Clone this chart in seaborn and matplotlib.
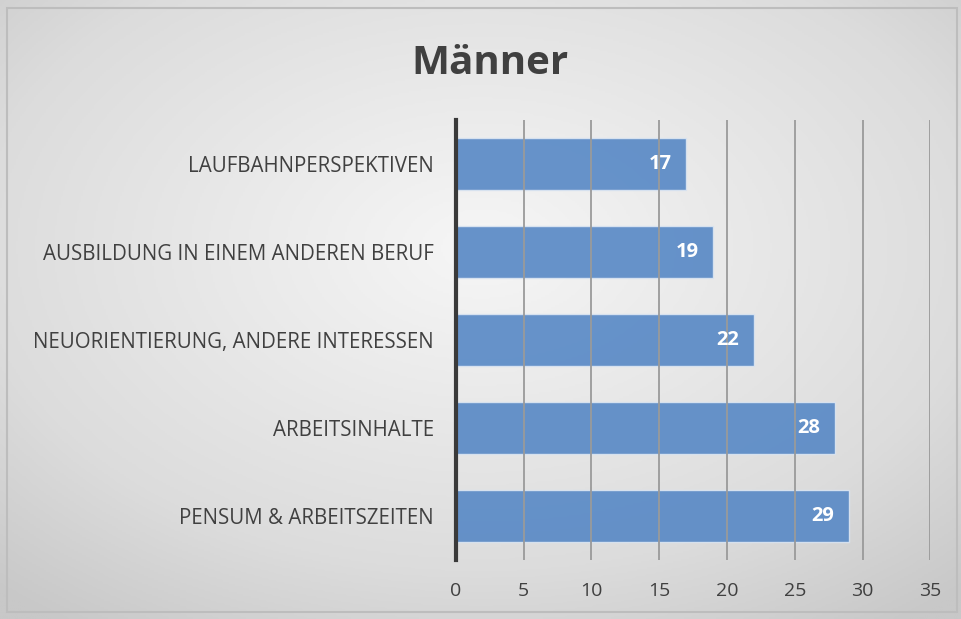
import numpy as np
import pandas as pd
import matplotlib.pyplot as plt
import seaborn as sns

# Daten
gruende = ["LAUFBAHNPERSPEKTIVEN", "AUSBILDUNG IN EINEM ANDEREN BERUF",
           "NEUORIENTIERUNG, ANDERE INTERESSEN", "ARBEITSINHALTE",
           "PENSUM & ARBEITSZEITEN"]
anzahl = [17, 19, 22, 28, 29]
xticks = [0, 5, 10, 15, 20, 25, 30, 35]

df = pd.DataFrame({"grund": gruende, "anzahl": anzahl})

sns.set_style("white")
plt.rcParams["font.family"] = ["Open Sans", "DejaVu Sans"]

fig = plt.figure(figsize=(9.62, 6.19), dpi=100)

# Hintergrund mit radialem Verlauf
bg = fig.add_axes([0, 0, 1, 1], zorder=0)
yy, xx = np.mgrid[-0.8:1.2:300j, -1:1:480j]
r = np.sqrt(xx ** 2 + yy ** 2)
cmap = plt.matplotlib.colors.LinearSegmentedColormap.from_list(
    "g", [(0, "#f6f6f6"), (0.7, "#dcdcdc"), (1.0, "#c8c8c8")])
bg.imshow(r, cmap=cmap, aspect="auto", extent=[0, 1, 0, 1], vmin=0, vmax=1.5)
bg.set_xlim(0, 1)
bg.set_ylim(0, 1)
bg.axis("off")
fig.patches.append(plt.Rectangle((0.007, 0.012), 0.988, 0.975, transform=fig.transFigure,
                                 fill=False, edgecolor="#bdbdbd", linewidth=1.5, zorder=5))

ax = fig.add_axes([0.474, 0.095, 0.493, 0.711], zorder=1)
ax.patch.set_alpha(0)
sns.barplot(data=df, y="grund", x="anzahl", orient="h", color="#5a8ac6",
            saturation=1, width=0.59, edgecolor="#dbe5f1", linewidth=1, alpha=0.92,
            ax=ax, zorder=2)

ax.set_xlim(0, 35)
ax.set_ylim(4.5, -0.5)
ax.set_xticks(xticks)
ax.grid(axis="x", color="#9a9a9a", linewidth=1.3, zorder=3)
ax.set_axisbelow(False)
for ln in ax.get_xgridlines():
    ln.set_zorder(3)
ax.set_xlabel("")
ax.set_ylabel("")
ax.tick_params(axis="y", length=0, labelsize=14.8, colors="#404040", pad=16)
ax.tick_params(axis="x", length=0, labelsize=14, colors="#404040", pad=16)
for s in ["top", "right", "bottom"]:
    ax.spines[s].set_visible(False)
ax.spines["left"].set_color("#3a3a3a")
ax.spines["left"].set_linewidth(3)
ax.spines["left"].set_zorder(4)

for i, v in enumerate(anzahl):
    ax.text(v - 1.1, i, str(v), ha="right", va="center", color="white",
            fontsize=14.5, fontweight="bold", zorder=5)

fig.text(0.509, 0.897, "Männer", ha="center", va="center", fontsize=29,
         fontweight="bold", color="#404040")

fig.savefig("out.png", dpi=100)
